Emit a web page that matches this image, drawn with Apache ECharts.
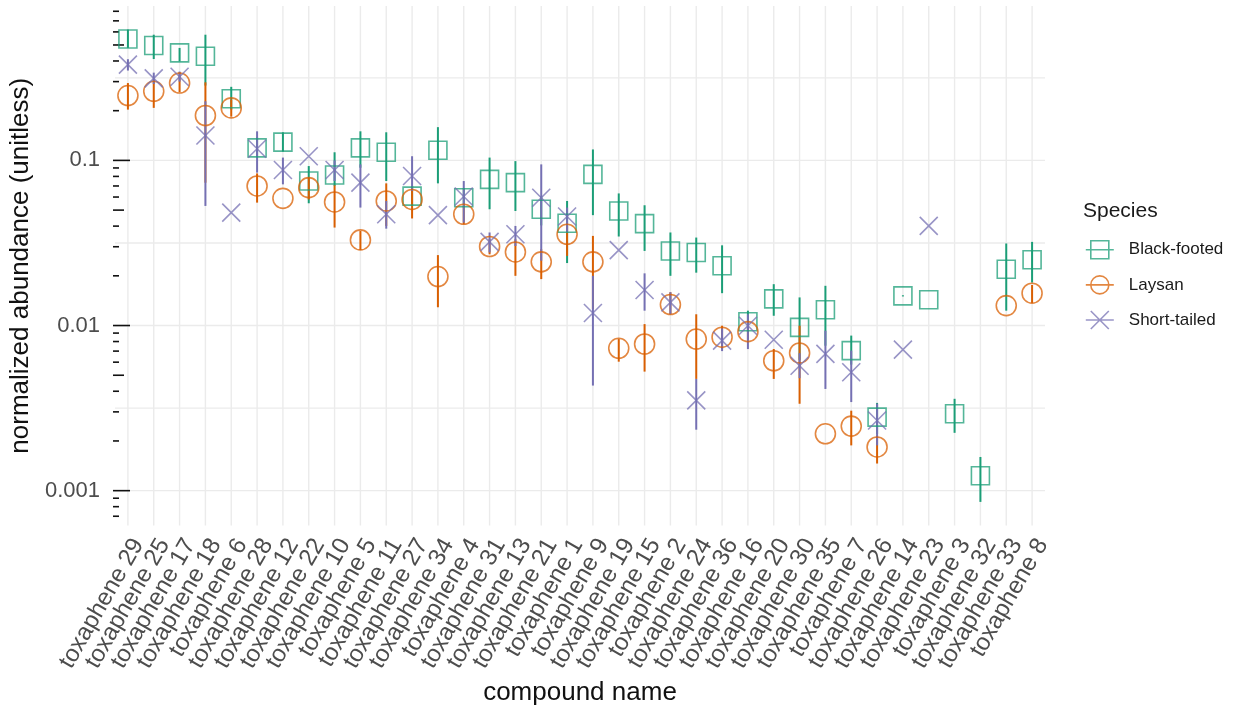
<!DOCTYPE html>
<html>
<head>
<meta charset="utf-8">
<script src="https://cdn.jsdelivr.net/npm/echarts@6/dist/echarts.min.js"></script>
<style>
  html, body { margin: 0; padding: 0; background: #ffffff; }
  #chart { width: 1238px; height: 711px; }
</style>
</head>
<body>
<div id="chart"></div>
<script>
// Compounds, ordered along the x axis
const categories = [
  'toxaphene 29', 'toxaphene 25', 'toxaphene 17', 'toxaphene 18', 'toxaphene 6', 'toxaphene 28',
  'toxaphene 12', 'toxaphene 22', 'toxaphene 10', 'toxaphene 5', 'toxaphene 11', 'toxaphene 27',
  'toxaphene 34', 'toxaphene 4', 'toxaphene 31', 'toxaphene 13', 'toxaphene 21', 'toxaphene 1',
  'toxaphene 9', 'toxaphene 19', 'toxaphene 15', 'toxaphene 2', 'toxaphene 24', 'toxaphene 36',
  'toxaphene 16', 'toxaphene 20', 'toxaphene 30', 'toxaphene 35', 'toxaphene 7', 'toxaphene 26',
  'toxaphene 14', 'toxaphene 23', 'toxaphene 3', 'toxaphene 32', 'toxaphene 33', 'toxaphene 8'
];

const speciesNames = ['Black-footed', 'Laysan', 'Short-tailed'];

// Black-footed albatross: mean normalized abundance with lower / upper range
const blackFooted = [0.543, 0.496, 0.448, 0.427, 0.236, 0.119, 0.129, 0.075, 0.0815, 0.119, 0.112, 0.0608,
  0.1153, 0.0594, 0.0768, 0.0733, 0.0506, 0.0416, 0.0823, 0.0494, 0.0414, 0.0283, 0.0277, 0.023,
  0.01054, 0.0145, 0.00975, 0.01245, 0.00705, 0.00279, 0.01513, 0.01432, 0.00292, 0.00123, 0.0219, 0.025];
const blackFootedLow = [0.48, 0.411, 0.398, 0.284, 0.203, 0.106, 0.113, 0.055, 0.07, 0.0903, 0.075, 0.053,
  0.0726, 0.052, 0.0506, 0.0494, 0.0404, 0.0239, 0.0466, 0.0346, 0.0283, 0.02, 0.0209, 0.0157,
  0.0091, 0.01146, 0.0062, 0.00755, 0.0058, 0.0022, 0.0150, null, 0.00224, 0.000855, 0.0123, 0.0182];
const blackFootedHigh = [0.62, 0.577, 0.48, 0.577, 0.279, 0.138, 0.148, 0.0924, 0.112, 0.150, 0.148, 0.07,
  0.159, 0.068, 0.104, 0.099, 0.0608, 0.0568, 0.1165, 0.0631, 0.0535, 0.0366, 0.0341, 0.0306,
  0.0123, 0.0178, 0.0148, 0.0174, 0.00869, 0.0034, 0.01525, null, 0.0036, 0.0016, 0.0314, 0.0321];

// Laysan albatross
const laysan = [0.247, 0.262, 0.294, 0.187, 0.208, 0.07, 0.0589, 0.0684, 0.056, 0.033, 0.0568, 0.058,
  0.0198, 0.0472, 0.0301, 0.0279, 0.0243, 0.0357, 0.0243, 0.00728, 0.00773, 0.0134, 0.00828, 0.0085,
  0.00918, 0.00612, 0.00682, 0.00221, 0.00246, 0.00184, null, null, null, null, 0.0132, 0.0157];
const laysanLow = [0.203, 0.208, 0.259, 0.0733, 0.184, 0.0555, null, 0.058, 0.0392, 0.0287, 0.0401, 0.0445,
  0.0129, 0.041, 0.027, 0.02, 0.0191, 0.0264, 0.0126, 0.00604, 0.00526, 0.0117, 0.00475, 0.00721,
  0.0082, 0.00475, 0.00336, null, 0.00188, 0.00146, null, null, null, null, null, 0.0137];
const laysanHigh = [0.294, 0.308, 0.342, 0.297, 0.234, 0.0834, null, 0.0786, 0.0706, 0.0374, 0.0726, 0.07,
  0.0267, 0.053, 0.0335, 0.0333, 0.029, 0.0401, 0.0349, 0.00828, 0.0102, 0.0159, 0.0117, 0.00998,
  0.0102, 0.00721, 0.00998, null, 0.00305, 0.00216, null, null, null, null, null, 0.0176];

// Short-tailed albatross
const shortTailed = [0.38, 0.314, 0.321, 0.1415, 0.0483, 0.1177, 0.0874, 0.106, 0.0874, 0.0733, 0.0472, 0.0804,
  0.0466, 0.0604, 0.0321, 0.0357, 0.0594, 0.0457, 0.0119, 0.0286, 0.0164, 0.0138, 0.00352, 0.0081,
  0.00997, 0.0082, 0.00571, 0.00673, 0.00521, 0.00266, 0.00715, 0.0401, null, null, null, null];
const shortTailedLow = [0.35, 0.29, 0.30, 0.053, null, 0.0843, 0.0716, null, 0.075, 0.0518, 0.0386, 0.0653,
  null, 0.042, 0.0277, 0.0303, 0.0247, 0.0366, 0.00433, null, 0.0123, 0.0117, 0.00234, 0.0070,
  0.0072, null, 0.0048, 0.00413, 0.00344, 0.00188, null, null, null, null, null, null];
const shortTailedHigh = [0.41, 0.34, 0.345, 0.228, null, 0.150, 0.104, null, 0.1, 0.0946, 0.0568, 0.106,
  null, 0.075, 0.0366, 0.0401, 0.0946, 0.0518, 0.02, null, 0.0207, 0.0159, 0.00475, 0.0096,
  0.0117, null, 0.0068, 0.0093, 0.00705, 0.00336, null, null, null, null, null, null];

// Y axis: labelled breaks, minor grid breaks and the log tick marks along the left edge
const yTickValues = [0.001, 0.01, 0.1];
const yTickLabels = ['0.001', '0.01', '0.1'];
const yMinorBreaks = [0.00316, 0.0316, 0.316];
const yLogTicks = [0.0007, 0.0008, 0.0009,
  0.001, 0.002, 0.003, 0.004, 0.005, 0.006, 0.007, 0.008, 0.009,
  0.01, 0.02, 0.03, 0.04, 0.05, 0.06, 0.07, 0.08, 0.09,
  0.1, 0.2, 0.3, 0.4, 0.5, 0.6, 0.7, 0.8];
const yMin = 0.000615;
const yMax = 0.861;

const colors = ['#1b9e77', '#d95f02', '#7570b3'];
const FONT = '"Liberation Sans", Arial, Helvetica, sans-serif';

const markerSymbols = ['rect', 'circle', 'path://M0,0L10,10M10,0L0,10'];
const markerSizes = [18, 20, 18];
const legendIcons = [
  'path://M5,0H23V18H5Z M0,9H28',
  'path://M0,9H28 M23,9A9,9,0,1,1,5,9A9,9,0,1,1,23,9',
  'path://M5,0L23,18M23,0L5,18 M0,9H28'
];

const means = [blackFooted, laysan, shortTailed];
const lows = [blackFootedLow, laysanLow, shortTailedLow];
const highs = [blackFootedHigh, laysanHigh, shortTailedHigh];

function pointData(vals) {
  const out = [];
  vals.forEach((v, i) => { if (v != null) out.push([i, v]); });
  return out;
}
function rangeData(lo, hi) {
  const out = [];
  lo.forEach((v, i) => { if (v != null && hi[i] != null) out.push([i, v, hi[i]]); });
  return out;
}

const series = [];

// open markers for each species
speciesNames.forEach((name, k) => {
  series.push({
    name: name,
    type: 'scatter',
    z: 4,
    symbol: markerSymbols[k],
    symbolSize: markerSizes[k],
    data: pointData(means[k]),
    itemStyle: { color: 'transparent', borderColor: colors[k], borderWidth: 1.6, opacity: 0.75 },
    emphasis: { disabled: true },
    silent: true
  });
});

// vertical range lines
speciesNames.forEach((name, k) => {
  series.push({
    name: name,
    type: 'custom',
    z: 3,
    silent: true,
    encode: { x: 0, y: [1, 2] },
    data: rangeData(lows[k], highs[k]),
    renderItem: (params, api) => {
      const x = api.value(0);
      const a = api.coord([x, api.value(1)]);
      const b = api.coord([x, api.value(2)]);
      return {
        type: 'line',
        shape: { x1: a[0], y1: a[1], x2: b[0], y2: b[1] },
        style: { stroke: colors[k], lineWidth: 2 }
      };
    }
  });
});

// panel grid: one vertical line per compound
series.push({
  type: 'custom',
  z: 0,
  silent: true,
  data: categories.map((c, i) => [i]),
  encode: { x: 0 },
  renderItem: (params, api) => {
    const cs = params.coordSys;
    const x = api.coord([api.value(0), 0.01])[0];
    return {
      type: 'line',
      shape: { x1: x, y1: cs.y, x2: x, y2: cs.y + cs.height },
      style: { stroke: '#ebebeb', lineWidth: 1.4 }
    };
  }
});

// panel grid: horizontal major and minor lines
series.push({
  type: 'custom',
  z: 0,
  silent: true,
  data: yTickValues.concat(yMinorBreaks).map(v => [0, v]),
  encode: { x: 0, y: 1 },
  renderItem: (params, api) => {
    const cs = params.coordSys;
    const y = api.coord([0, api.value(1)])[1];
    return {
      type: 'line',
      shape: { x1: cs.x, y1: y, x2: cs.x + cs.width, y2: y },
      style: { stroke: '#ebebeb', lineWidth: 1.4 }
    };
  }
});

// log tick marks along the inside of the left edge
series.push({
  type: 'custom',
  z: 1,
  silent: true,
  data: yLogTicks.map(v => [0, v]),
  encode: { x: 0, y: 1 },
  renderItem: (params, api) => {
    const cs = params.coordSys;
    const v = api.value(1);
    const y = api.coord([0, v])[1];
    const e = Math.log10(v);
    const mant = Math.round(v / Math.pow(10, Math.floor(e + 1e-9)));
    const len = mant === 1 ? 17 : (mant === 5 ? 11 : 6);
    return {
      type: 'line',
      shape: { x1: cs.x - 2, y1: y, x2: cs.x - 2 + len, y2: y },
      style: { stroke: '#111111', lineWidth: 1.6 }
    };
  }
});

const option = {
  animation: false,
  backgroundColor: '#ffffff',
  textStyle: { fontFamily: FONT },
  title: [{
    text: 'Species',
    left: 1078,
    top: 196,
    textStyle: { fontFamily: FONT, fontSize: 21, fontWeight: 'normal', color: '#1a1a1a' }
  }],
  legend: {
    orient: 'vertical',
    left: 1080,
    top: 235,
    itemWidth: 28,
    itemHeight: 18,
    itemGap: 15.5,
    selectedMode: false,
    data: speciesNames.map((n, k) => ({ name: n, icon: legendIcons[k] })),
    itemStyle: { borderWidth: 1.6 },
    textStyle: { fontFamily: FONT, fontSize: 17, color: '#1a1a1a', padding: [0, 0, 0, 10] }
  },
  grid: { left: 115, right: 193, top: 6, bottom: 184 },
  xAxis: {
    type: 'category',
    data: categories,
    boundaryGap: true,
    axisLine: { show: false },
    axisTick: { show: false },
    splitLine: { show: false },
    axisLabel: {
      interval: 0,
      rotate: 60,
      align: 'right',
      verticalAlign: 'top',
      margin: 9,
      fontFamily: FONT,
      fontSize: 24,
      color: '#4d4d4d'
    },
    name: 'compound name',
    nameLocation: 'middle',
    nameGap: 153,
    nameTextStyle: { fontFamily: FONT, fontSize: 26, color: '#111111' }
  },
  yAxis: {
    type: 'log',
    logBase: 10,
    min: yMin,
    max: yMax,
    axisLine: { show: false },
    axisTick: { show: false },
    splitLine: { show: false },
    minorTick: { show: false },
    minorSplitLine: { show: false },
    axisLabel: {
      margin: 15,
      fontFamily: FONT,
      fontSize: 22,
      color: '#4d4d4d',
      showMinLabel: false,
      showMaxLabel: false,
      formatter: v => {
        const k = yTickValues.findIndex(t => Math.abs(Math.log10(v / t)) < 1e-6);
        return k >= 0 ? yTickLabels[k] : '';
      }
    },
    name: 'normalized abundance (unitless)',
    nameLocation: 'middle',
    nameRotate: 90,
    nameGap: 68,
    nameTextStyle: { fontFamily: FONT, fontSize: 26, color: '#111111' }
  },
  series: series
};

const chart = echarts.init(document.getElementById('chart'), null, { renderer: 'canvas' });
chart.setOption(option);
</script>
</body>
</html>
